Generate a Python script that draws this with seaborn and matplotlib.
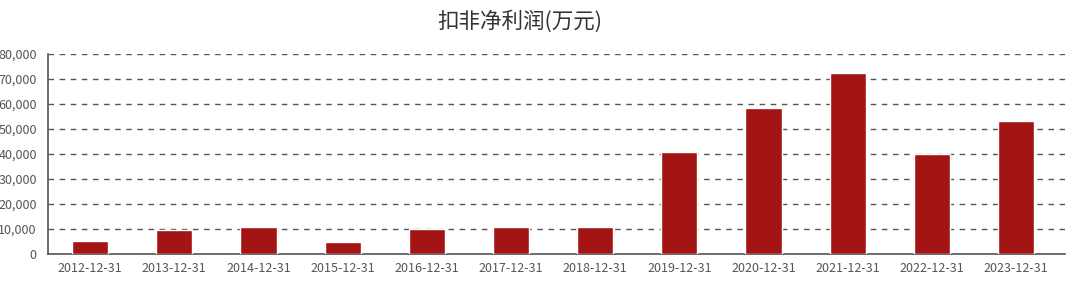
import matplotlib
matplotlib.use("Agg")
import matplotlib.pyplot as plt
import seaborn as sns
import pandas as pd
from matplotlib.ticker import FuncFormatter, MultipleLocator

periods = ["2012-12-31", "2013-12-31", "2014-12-31", "2015-12-31", "2016-12-31",
           "2017-12-31", "2018-12-31", "2019-12-31", "2020-12-31", "2021-12-31",
           "2022-12-31", "2023-12-31"]
profit = [5200, 9800, 10900, 4900, 9900, 11000, 11000, 40600, 58300, 72300, 39900, 53300]

df = pd.DataFrame({"period": periods, "profit": profit})

sns.set_theme(style="white")
plt.rcParams["font.family"] = ["Noto Sans CJK SC", "DejaVu Sans"]

fig = plt.figure(figsize=(10.8, 2.84), dpi=100)
ax = fig.add_axes([0.0444, 0.1056, 0.9417, 0.7044])

sns.barplot(data=df, x="period", y="profit", color="#A31515", saturation=1,
            width=0.43, ax=ax, zorder=3)

ax.set_ylim(0, 80000)
ax.set_xlim(-0.5, len(periods) - 0.42)
ax.yaxis.set_major_locator(MultipleLocator(10000))
ax.yaxis.set_major_formatter(FuncFormatter(lambda v, p: f"{int(v):,}"))
ax.grid(axis="y", linestyle=(0, (4, 4)), color="#555555", linewidth=1, zorder=0)
ax.set_axisbelow(True)

for side in ("top", "right"):
    ax.spines[side].set_visible(False)
for side in ("left", "bottom"):
    ax.spines[side].set_color("#555555")
    ax.spines[side].set_linewidth(1.2)

ax.tick_params(axis="both", labelsize=9, colors="#555555", length=0, pad=6)
ax.tick_params(axis="y", pad=8)
ax.set_xlabel("")
ax.set_ylabel("")

fig.text(0.4815, 0.925, "扣非净利润(万元)", ha="center", va="center",
         fontsize=15.5, color="#333333")

fig.savefig("out.png", dpi=100)
